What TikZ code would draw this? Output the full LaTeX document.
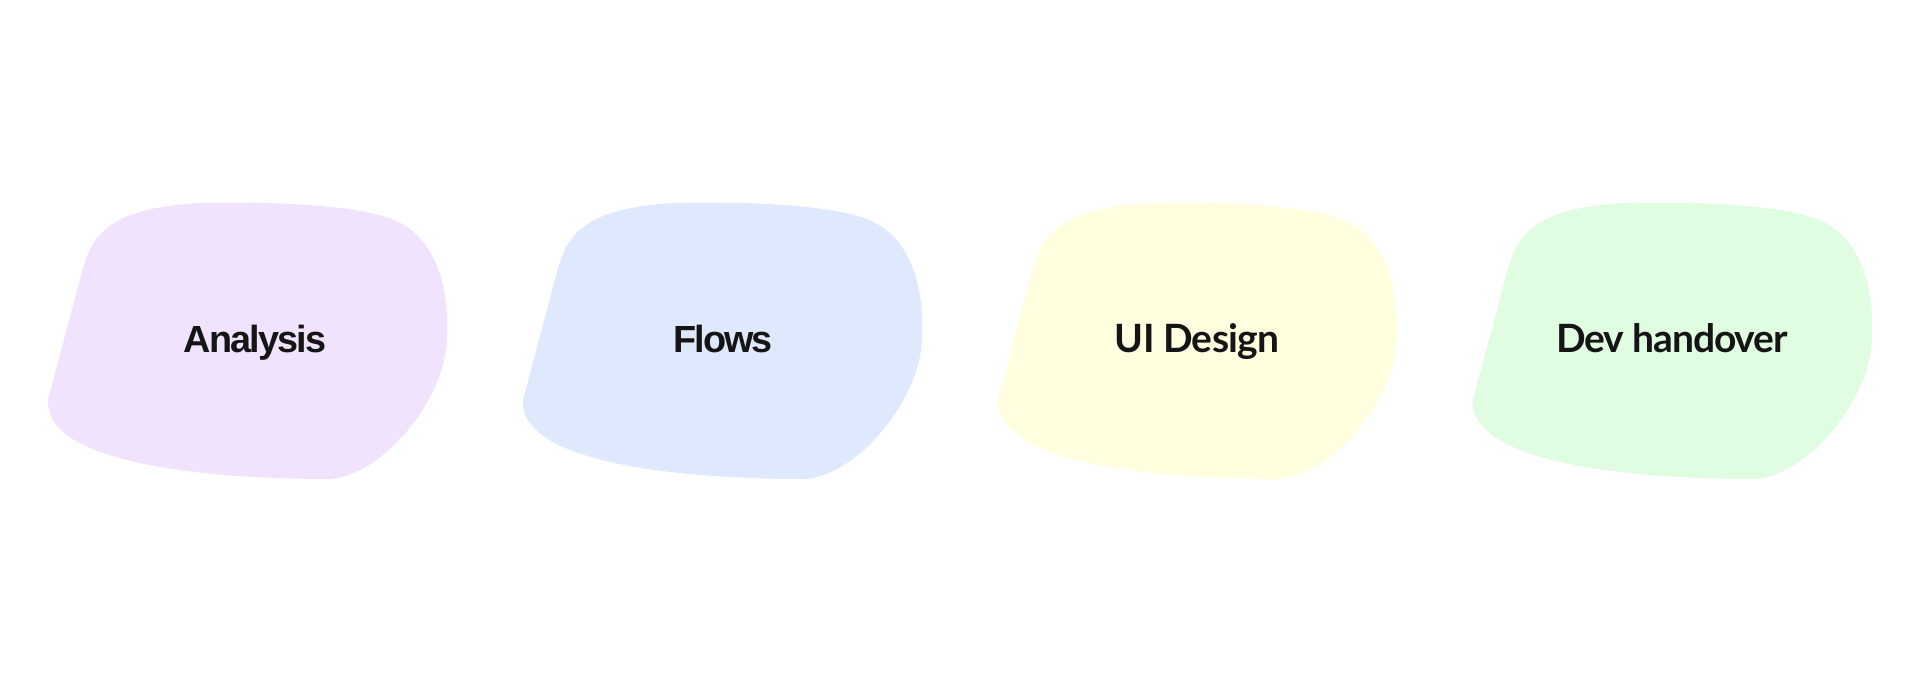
\documentclass[tikz,border=0pt]{standalone}
\usepackage{fontspec}
\newfontfamily\lab[LetterSpace=-5]{Liberation Sans}
\newfontfamily\labl[LetterSpace=-2]{Lato}
\newfontfamily\labm[LetterSpace=-3]{Lato}
\definecolor{cpurple}{HTML}{F1E2FD}
\definecolor{cblue}{HTML}{DFE9FD}
\definecolor{cyellow}{HTML}{FFFEDF}
\definecolor{cgreen}{HTML}{E0FDE2}
\definecolor{ink}{HTML}{151515}
\tikzset{
  blob/.pic={
    \fill[fill=#1] (48,400) -- (82,272)
      .. controls (92,234) and (110,208) .. (200,203)
      .. controls (290,201) and (360,207) .. (392,219)
      .. controls (435,236) and (449,285) .. (447,335)
      .. controls (448,395) and (385,475) .. (330,479)
      .. controls (200,479) and (44,462) .. (48,400) -- cycle;
  },
  lbl/.style={anchor=base, text=ink, inner sep=0pt}
}
\begin{document}
\begin{tikzpicture}[x=0.5pt,y=-0.5pt]
\useasboundingbox (0,0) rectangle (1920,681);
\fill[white] (0,0) rectangle (1920,681);
\pic (b1) at (0,0) {blob=cpurple};
\pic (b2) at (475,0) {blob=cblue};
\pic (b3) at (950,0) {blob=cyellow};
\pic (b4) at (1425,0) {blob=cgreen};
\node[lbl, font=\fontsize{18.9}{22}\selectfont\lab\bfseries] (t1) at (255,352) {Analysis};
\node[lbl, font=\fontsize{18.9}{22}\selectfont\lab\bfseries] (t2) at (723,352) {Flows};
\node[lbl, font=\fontsize{19.5}{22}\selectfont\labl\bfseries] (t3) at (1197,352) {UI Design};
\node[lbl, font=\fontsize{19.5}{22}\selectfont\labm\bfseries] (t4) at (1672,352) {Dev handover};
\end{tikzpicture}
\end{document}
